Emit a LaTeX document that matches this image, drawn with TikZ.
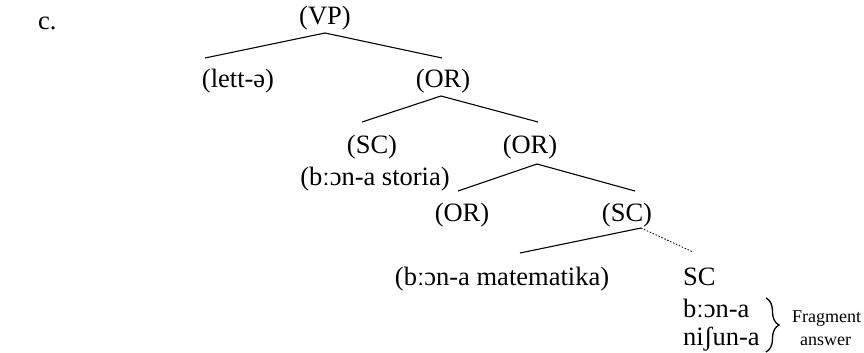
\documentclass[tikz,border=0pt]{standalone}
\usepackage{fontspec}
\setmainfont{Liberation Serif}
\usetikzlibrary{decorations.pathreplacing}
\begin{document}
\begin{tikzpicture}[x=1pt, y=-1pt,
  lbl/.style={font=\fontsize{26.5}{30}\selectfont, inner sep=0pt, anchor=base},
  lblw/.style={lbl, anchor=base west},
  note/.style={font=\fontsize{18}{20}\selectfont, inner sep=0pt, anchor=base west},
  branch/.style={line width=1.1pt},
  elided/.style={line width=0.8pt, dash pattern=on 1.6pt off 1.6pt}]
\useasboundingbox (0,0) rectangle (864,353);

% example label
\node[lblw] (ex) at (38,30) {c.};

% tree nodes
\node[lbl] (vp)   at (325,25)  {(VP)};
\node[lbl] (lett) at (238,87)  {(lett-ə)};
\node[lbl] (or1)  at (443,87)  {(OR)};
\node[lbl] (sc1)  at (372,153) {(SC)};
\node[lbl] (sto)  at (375,185) {(bːɔn-a storia)};
\node[lbl] (or2)  at (530,153) {(OR)};
\node[lbl] (or3)  at (462,221) {(OR)};
\node[lbl] (sc2)  at (627,221) {(SC)};
\node[lbl] (mat)  at (502,285) {(bːɔn-a matematika)};
\node[lblw] (sc3) at (683,285) {SC};
\node[lblw] (w1)  at (683,317) {bːɔn-a};
\node[lblw] (w2)  at (683,345) {niʃun-a};
\node[note] (frag) at (792,322) {Fragment};
\node[note] (ans)  at (800,345) {answer};

% branch end points
\coordinate (vp-a)  at (325,33);
\coordinate (vp-l)  at (205,58);
\coordinate (vp-r)  at (442,58);
\coordinate (or1-a) at (441,96);
\coordinate (or1-l) at (362,122);
\coordinate (or1-r) at (538,122);
\coordinate (or2-a) at (537,164);
\coordinate (or2-l) at (458,191);
\coordinate (or2-r) at (635,191);
\coordinate (sc2-a) at (641,228);
\coordinate (sc2-l) at (520,253);
\coordinate (sc2-r) at (693,252);
\coordinate (br-t)  at (766,298);
\coordinate (br-b)  at (766,352);

% branches
\draw[branch] (vp-l) -- (vp-a) -- (vp-r);
\draw[branch] (or1-l) -- (or1-a) -- (or1-r);
\draw[branch] (or2-l) -- (or2-a) -- (or2-r);
\draw[branch] (sc2-l) -- (sc2-a);
\draw[elided] (sc2-a) -- (sc2-r);

% brace grouping the fragment answer
\draw[line width=1.3pt, decorate, decoration={brace, amplitude=13pt}] (br-t) -- (br-b);
\end{tikzpicture}
\end{document}
